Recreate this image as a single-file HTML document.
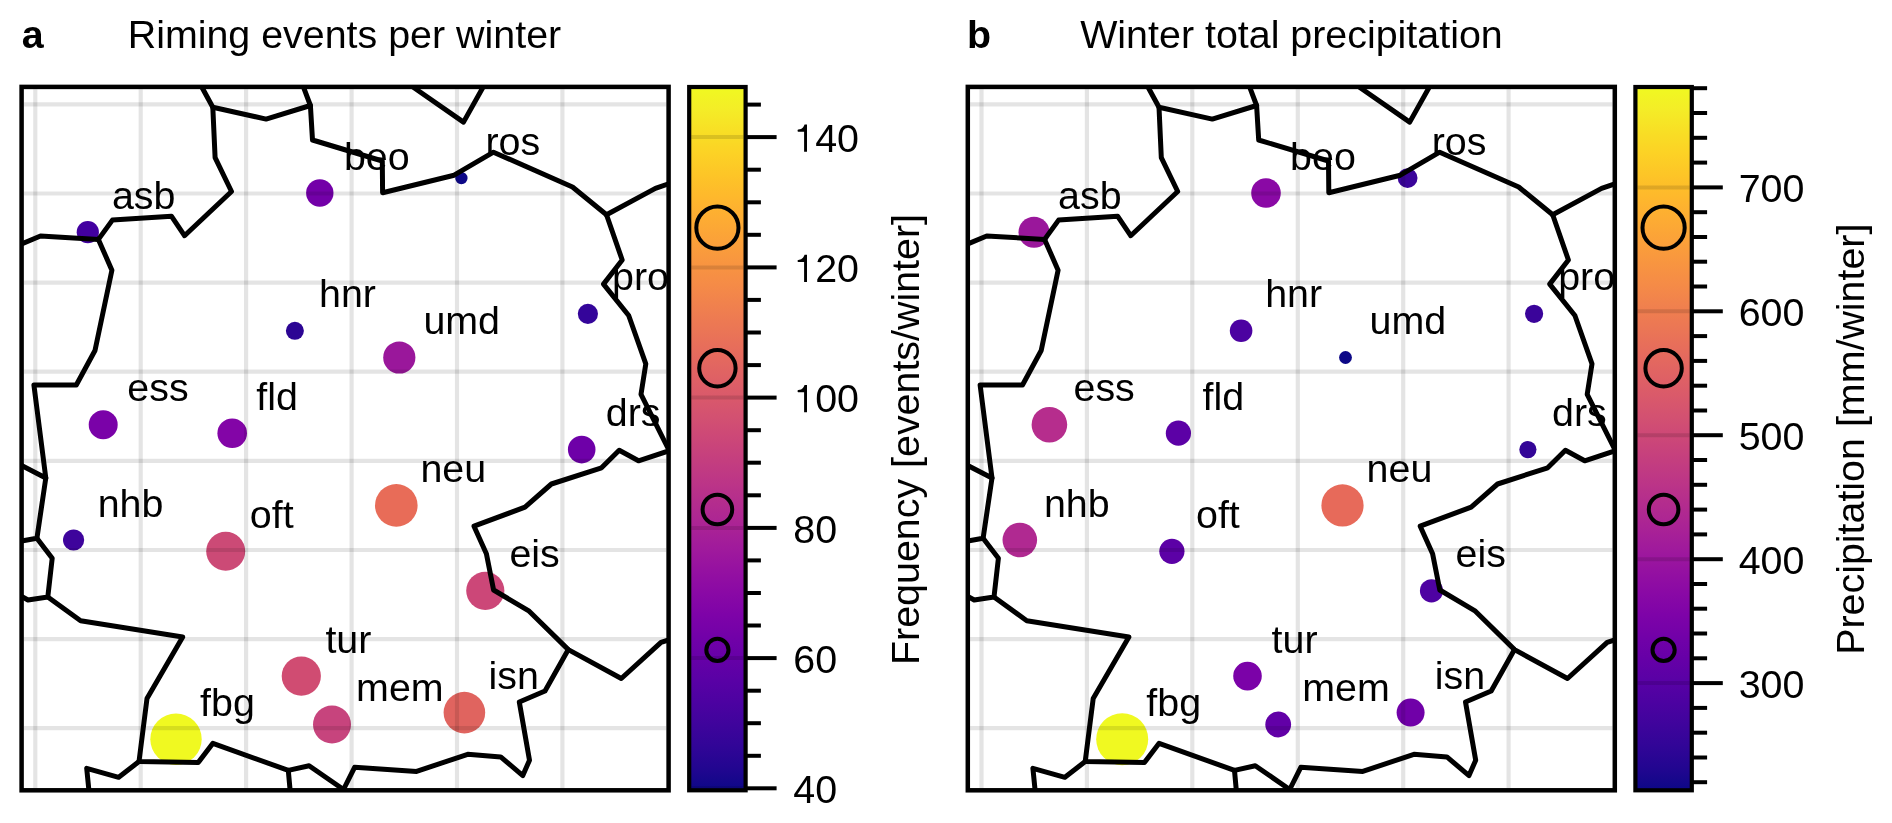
<!DOCTYPE html><html><head><meta charset="utf-8"><style>html,body{margin:0;padding:0;background:#fff;}svg{display:block;will-change:transform;}</style></head><body>
<svg width="1892" height="823" viewBox="0 0 1892 823">
<defs>
<clipPath id="mc0"><rect x="21.6" y="86.9" width="647.0" height="703.4"/></clipPath>
<clipPath id="mc1"><rect x="967.8000000000001" y="86.9" width="647.0" height="703.4"/></clipPath>
<linearGradient id="plasma" x1="0" y1="0" x2="0" y2="1"><stop offset="0.0000" stop-color="#f0f921"/><stop offset="0.0312" stop-color="#f4ed27"/><stop offset="0.0625" stop-color="#f8df25"/><stop offset="0.0938" stop-color="#fcd225"/><stop offset="0.1250" stop-color="#fdc527"/><stop offset="0.1562" stop-color="#feb82c"/><stop offset="0.1875" stop-color="#fdac33"/><stop offset="0.2188" stop-color="#fba139"/><stop offset="0.2500" stop-color="#f89540"/><stop offset="0.2812" stop-color="#f58b47"/><stop offset="0.3125" stop-color="#f0804e"/><stop offset="0.3438" stop-color="#eb7655"/><stop offset="0.3750" stop-color="#e66c5c"/><stop offset="0.4062" stop-color="#e06363"/><stop offset="0.4375" stop-color="#da5a6a"/><stop offset="0.4688" stop-color="#d35171"/><stop offset="0.5000" stop-color="#cc4778"/><stop offset="0.5312" stop-color="#c43e7f"/><stop offset="0.5625" stop-color="#bc3587"/><stop offset="0.5938" stop-color="#b32c8e"/><stop offset="0.6250" stop-color="#aa2395"/><stop offset="0.6562" stop-color="#a01a9c"/><stop offset="0.6875" stop-color="#9511a1"/><stop offset="0.7188" stop-color="#8a09a5"/><stop offset="0.7500" stop-color="#7e03a8"/><stop offset="0.7812" stop-color="#7201a8"/><stop offset="0.8125" stop-color="#6600a7"/><stop offset="0.8438" stop-color="#5901a5"/><stop offset="0.8750" stop-color="#4c02a1"/><stop offset="0.9062" stop-color="#3f049c"/><stop offset="0.9375" stop-color="#310597"/><stop offset="0.9688" stop-color="#220690"/><stop offset="1.0000" stop-color="#0d0887"/></linearGradient>
</defs>
<rect width="1892" height="823" fill="#fff"/>
<text x="21.7" y="47.8" font-family="Liberation Sans, sans-serif" font-size="39.4" font-weight="bold">a</text>
<text x="127.7" y="47.8" font-family="Liberation Sans, sans-serif" font-size="39.4">Riming events per winter</text>
<text x="967" y="47.8" font-family="Liberation Sans, sans-serif" font-size="39.4" font-weight="bold">b</text>
<text x="1080.2" y="47.8" font-family="Liberation Sans, sans-serif" font-size="39.4">Winter total precipitation</text>
<g clip-path="url(#mc0)">
<circle cx="87.8" cy="232.2" r="11.1" fill="#4200a0"/>
<circle cx="319.8" cy="193.0" r="13.7" fill="#7300a8"/>
<circle cx="461.4" cy="178.1" r="6.2" fill="#0d0887"/>
<circle cx="294.9" cy="330.8" r="9.0" fill="#2c0594"/>
<circle cx="399.3" cy="357.5" r="16.1" fill="#9a179b"/>
<circle cx="587.9" cy="313.8" r="10.1" fill="#34059a"/>
<circle cx="103.2" cy="424.7" r="14.5" fill="#7a02a8"/>
<circle cx="232.2" cy="433.2" r="14.8" fill="#8305a7"/>
<circle cx="581.7" cy="449.6" r="13.8" fill="#6e00a8"/>
<circle cx="73.6" cy="540.0" r="10.6" fill="#3e049c"/>
<circle cx="225.7" cy="551.3" r="19.5" fill="#cc4a76"/>
<circle cx="396.3" cy="505.4" r="21.3" fill="#e86c58"/>
<circle cx="485.3" cy="590.8" r="19.1" fill="#cc4778"/>
<circle cx="301.3" cy="676.1" r="19.6" fill="#d04c72"/>
<circle cx="332.0" cy="724.5" r="19.0" fill="#c7447d"/>
<circle cx="464.4" cy="712.6" r="20.8" fill="#e0645f"/>
<circle cx="176.0" cy="739.2" r="25.7" fill="#f0f921"/>
<line x1="35.3" y1="89.15" x2="35.3" y2="788.05" stroke="rgba(0,0,0,0.105)" stroke-width="4.2"/>
<line x1="140.7" y1="89.15" x2="140.7" y2="788.05" stroke="rgba(0,0,0,0.105)" stroke-width="4.2"/>
<line x1="246.1" y1="89.15" x2="246.1" y2="788.05" stroke="rgba(0,0,0,0.105)" stroke-width="4.2"/>
<line x1="351.6" y1="89.15" x2="351.6" y2="788.05" stroke="rgba(0,0,0,0.105)" stroke-width="4.2"/>
<line x1="457.0" y1="89.15" x2="457.0" y2="788.05" stroke="rgba(0,0,0,0.105)" stroke-width="4.2"/>
<line x1="562.4" y1="89.15" x2="562.4" y2="788.05" stroke="rgba(0,0,0,0.105)" stroke-width="4.2"/>
<line x1="23.85" y1="104.4" x2="666.35" y2="104.4" stroke="rgba(0,0,0,0.105)" stroke-width="4.2"/>
<line x1="23.85" y1="193.5" x2="666.35" y2="193.5" stroke="rgba(0,0,0,0.105)" stroke-width="4.2"/>
<line x1="23.85" y1="282.6" x2="666.35" y2="282.6" stroke="rgba(0,0,0,0.105)" stroke-width="4.2"/>
<line x1="23.85" y1="371.7" x2="666.35" y2="371.7" stroke="rgba(0,0,0,0.105)" stroke-width="4.2"/>
<line x1="23.85" y1="460.8" x2="666.35" y2="460.8" stroke="rgba(0,0,0,0.105)" stroke-width="4.2"/>
<line x1="23.85" y1="550.0" x2="666.35" y2="550.0" stroke="rgba(0,0,0,0.105)" stroke-width="4.2"/>
<line x1="23.85" y1="639.1" x2="666.35" y2="639.1" stroke="rgba(0,0,0,0.105)" stroke-width="4.2"/>
<line x1="23.85" y1="728.2" x2="666.35" y2="728.2" stroke="rgba(0,0,0,0.105)" stroke-width="4.2"/>
<polyline points="201.9,87.2 212.8,107.2 266.1,119.1 310.4,105.5 303.5,87.2" fill="none" stroke="#000" stroke-width="5.0" stroke-linejoin="round" stroke-linecap="round"/>
<polyline points="212.8,107.2 215.1,157.6 231.5,191.5 184.5,235.7 171.4,216.2 112.4,220.1 98.4,239.4 40.5,236.0 21.6,244.0" fill="none" stroke="#000" stroke-width="5.0" stroke-linejoin="round" stroke-linecap="round"/>
<polyline points="98.4,239.4 111.9,270.2 95.0,350.5 76.3,385.0 33.9,385.0 45.8,478.0 21.6,465.5" fill="none" stroke="#000" stroke-width="5.0" stroke-linejoin="round" stroke-linecap="round"/>
<polyline points="45.8,478.0 36.9,538.3 21.6,541.0" fill="none" stroke="#000" stroke-width="5.0" stroke-linejoin="round" stroke-linecap="round"/>
<polyline points="36.9,538.3 52.2,558.2 47.8,597.0 28.0,600.0 21.6,596.4" fill="none" stroke="#000" stroke-width="5.0" stroke-linejoin="round" stroke-linecap="round"/>
<polyline points="47.8,597.0 80.6,620.7 182.7,637.0 147.0,698.5 139.0,761.5 198.2,762.6 212.9,743.3 288.3,770.4 309.1,765.7 343.5,789.5 354.6,767.3 416.6,771.4 467.7,754.3 500.7,756.9 522.8,775.6 529.5,760.2 519.3,702.0 545.0,691.0 568.3,649.6" fill="none" stroke="#000" stroke-width="5.0" stroke-linejoin="round" stroke-linecap="round"/>
<polyline points="288.3,770.4 290.1,790.3" fill="none" stroke="#000" stroke-width="5.0" stroke-linejoin="round" stroke-linecap="round"/>
<polyline points="139.0,761.5 118.7,777.3 86.7,768.3 88.9,790.3" fill="none" stroke="#000" stroke-width="5.0" stroke-linejoin="round" stroke-linecap="round"/>
<polyline points="310.4,105.5 312.5,140.0 382.3,161.0 382.6,192.7 454.1,175.2 493.5,152.2 572.5,187.0 606.5,214.7" fill="none" stroke="#000" stroke-width="5.0" stroke-linejoin="round" stroke-linecap="round"/>
<polyline points="606.5,214.7 655.4,188.4 668.6,183.8" fill="none" stroke="#000" stroke-width="5.0" stroke-linejoin="round" stroke-linecap="round"/>
<polyline points="606.5,214.7 622.2,260.0 603.5,284.1 628.7,315.5 645.8,363.8 641.0,394.3 668.6,449.5" fill="none" stroke="#000" stroke-width="5.0" stroke-linejoin="round" stroke-linecap="round"/>
<polyline points="668.6,451.0 638.5,460.8 619.2,450.3 601.5,467.8 551.4,484.0 525.0,507.1 474.0,526.2 486.4,553.8 493.6,590.0 529.2,611.2 568.3,649.6 621.3,678.5 661.0,642.3 668.6,640.0" fill="none" stroke="#000" stroke-width="5.0" stroke-linejoin="round" stroke-linecap="round"/>
<polyline points="413.3,87.3 463.5,122.1 483.0,87.3" fill="none" stroke="#000" stroke-width="5.0" stroke-linejoin="round" stroke-linecap="round"/>
</g>
<text x="111.9" y="208.7" font-family="Liberation Sans, sans-serif" font-size="39.4">asb</text>
<text x="343.9" y="169.5" font-family="Liberation Sans, sans-serif" font-size="39.4">beo</text>
<text x="485.5" y="154.6" font-family="Liberation Sans, sans-serif" font-size="39.4">ros</text>
<text x="319.0" y="307.3" font-family="Liberation Sans, sans-serif" font-size="39.4">hnr</text>
<text x="423.4" y="334.0" font-family="Liberation Sans, sans-serif" font-size="39.4">umd</text>
<text x="612.0" y="290.3" font-family="Liberation Sans, sans-serif" font-size="39.4">pro</text>
<text x="127.3" y="401.2" font-family="Liberation Sans, sans-serif" font-size="39.4">ess</text>
<text x="256.3" y="409.7" font-family="Liberation Sans, sans-serif" font-size="39.4">fld</text>
<text x="605.8" y="426.1" font-family="Liberation Sans, sans-serif" font-size="39.4">drs</text>
<text x="97.7" y="516.5" font-family="Liberation Sans, sans-serif" font-size="39.4">nhb</text>
<text x="249.8" y="527.8" font-family="Liberation Sans, sans-serif" font-size="39.4">oft</text>
<text x="420.4" y="481.9" font-family="Liberation Sans, sans-serif" font-size="39.4">neu</text>
<text x="509.4" y="567.3" font-family="Liberation Sans, sans-serif" font-size="39.4">eis</text>
<text x="325.4" y="652.6" font-family="Liberation Sans, sans-serif" font-size="39.4">tur</text>
<text x="356.1" y="701.0" font-family="Liberation Sans, sans-serif" font-size="39.4">mem</text>
<text x="488.5" y="689.1" font-family="Liberation Sans, sans-serif" font-size="39.4">isn</text>
<text x="200.1" y="715.7" font-family="Liberation Sans, sans-serif" font-size="39.4">fbg</text>
<rect x="21.6" y="86.9" width="647.0" height="703.4" fill="none" stroke="#000" stroke-width="4.5"/>
<rect x="689.2" y="87.0" width="56.39999999999998" height="703.3" fill="url(#plasma)"/>
<line x1="691.3000000000001" y1="788.3" x2="743.5" y2="788.3" stroke="rgba(0,0,0,0.12)" stroke-width="4"/>
<line x1="691.3000000000001" y1="658.1" x2="743.5" y2="658.1" stroke="rgba(0,0,0,0.12)" stroke-width="4"/>
<line x1="691.3000000000001" y1="527.9" x2="743.5" y2="527.9" stroke="rgba(0,0,0,0.12)" stroke-width="4"/>
<line x1="691.3000000000001" y1="397.6" x2="743.5" y2="397.6" stroke="rgba(0,0,0,0.12)" stroke-width="4"/>
<line x1="691.3000000000001" y1="267.4" x2="743.5" y2="267.4" stroke="rgba(0,0,0,0.12)" stroke-width="4"/>
<line x1="691.3000000000001" y1="137.1" x2="743.5" y2="137.1" stroke="rgba(0,0,0,0.12)" stroke-width="4"/>
<circle cx="717.4" cy="649.9" r="11.1" fill="none" stroke="#000" stroke-width="4"/>
<circle cx="717.4" cy="509.5" r="14.8" fill="none" stroke="#000" stroke-width="4"/>
<circle cx="717.4" cy="368.3" r="18.2" fill="none" stroke="#000" stroke-width="4"/>
<circle cx="717.4" cy="227.7" r="21.1" fill="none" stroke="#000" stroke-width="4"/>
<rect x="689.2" y="87.0" width="56.39999999999998" height="703.3" fill="none" stroke="#000" stroke-width="4.2"/>
<line x1="745.6" y1="788.3" x2="776.6" y2="788.3" stroke="#000" stroke-width="4"/>
<text x="793.3" y="802.9" font-family="Liberation Sans, sans-serif" font-size="39.4">40</text>
<line x1="745.6" y1="658.1" x2="776.6" y2="658.1" stroke="#000" stroke-width="4"/>
<text x="793.3" y="672.7" font-family="Liberation Sans, sans-serif" font-size="39.4">60</text>
<line x1="745.6" y1="527.9" x2="776.6" y2="527.9" stroke="#000" stroke-width="4"/>
<text x="793.3" y="542.5" font-family="Liberation Sans, sans-serif" font-size="39.4">80</text>
<line x1="745.6" y1="397.6" x2="776.6" y2="397.6" stroke="#000" stroke-width="4"/>
<path transform="translate(793.3,412.2)" d="M13.7,0 L10.8,0 L10.8,-19.9 L4.9,-19.9 Q4.3,-19.9 4.3,-20.7 L4.3,-21.4 Q4.3,-22.1 5.0,-22.1 Q8.2,-22.2 9.7,-24.2 Q10.7,-25.7 11.3,-27.3 L13.7,-27.3 Z" fill="#000"/>
<text x="815.2" y="412.2" font-family="Liberation Sans, sans-serif" font-size="39.4">00</text>
<line x1="745.6" y1="267.4" x2="776.6" y2="267.4" stroke="#000" stroke-width="4"/>
<path transform="translate(793.3,282.0)" d="M13.7,0 L10.8,0 L10.8,-19.9 L4.9,-19.9 Q4.3,-19.9 4.3,-20.7 L4.3,-21.4 Q4.3,-22.1 5.0,-22.1 Q8.2,-22.2 9.7,-24.2 Q10.7,-25.7 11.3,-27.3 L13.7,-27.3 Z" fill="#000"/>
<text x="815.2" y="282.0" font-family="Liberation Sans, sans-serif" font-size="39.4">20</text>
<line x1="745.6" y1="137.1" x2="776.6" y2="137.1" stroke="#000" stroke-width="4"/>
<path transform="translate(793.3,151.7)" d="M13.7,0 L10.8,0 L10.8,-19.9 L4.9,-19.9 Q4.3,-19.9 4.3,-20.7 L4.3,-21.4 Q4.3,-22.1 5.0,-22.1 Q8.2,-22.2 9.7,-24.2 Q10.7,-25.7 11.3,-27.3 L13.7,-27.3 Z" fill="#000"/>
<text x="815.2" y="151.7" font-family="Liberation Sans, sans-serif" font-size="39.4">40</text>
<line x1="745.6" y1="755.8" x2="760.9" y2="755.8" stroke="#000" stroke-width="4"/>
<line x1="745.6" y1="723.2" x2="760.9" y2="723.2" stroke="#000" stroke-width="4"/>
<line x1="745.6" y1="690.7" x2="760.9" y2="690.7" stroke="#000" stroke-width="4"/>
<line x1="745.6" y1="625.5" x2="760.9" y2="625.5" stroke="#000" stroke-width="4"/>
<line x1="745.6" y1="593.0" x2="760.9" y2="593.0" stroke="#000" stroke-width="4"/>
<line x1="745.6" y1="560.4" x2="760.9" y2="560.4" stroke="#000" stroke-width="4"/>
<line x1="745.6" y1="495.3" x2="760.9" y2="495.3" stroke="#000" stroke-width="4"/>
<line x1="745.6" y1="462.7" x2="760.9" y2="462.7" stroke="#000" stroke-width="4"/>
<line x1="745.6" y1="430.2" x2="760.9" y2="430.2" stroke="#000" stroke-width="4"/>
<line x1="745.6" y1="365.1" x2="760.9" y2="365.1" stroke="#000" stroke-width="4"/>
<line x1="745.6" y1="332.5" x2="760.9" y2="332.5" stroke="#000" stroke-width="4"/>
<line x1="745.6" y1="299.9" x2="760.9" y2="299.9" stroke="#000" stroke-width="4"/>
<line x1="745.6" y1="234.8" x2="760.9" y2="234.8" stroke="#000" stroke-width="4"/>
<line x1="745.6" y1="202.3" x2="760.9" y2="202.3" stroke="#000" stroke-width="4"/>
<line x1="745.6" y1="169.7" x2="760.9" y2="169.7" stroke="#000" stroke-width="4"/>
<line x1="745.6" y1="104.6" x2="760.9" y2="104.6" stroke="#000" stroke-width="4"/>
<text transform="translate(918.5,439.5) rotate(-90)" text-anchor="middle" font-family="Liberation Sans, sans-serif" font-size="39.4">Frequency [events/winter]</text>
<g clip-path="url(#mc1)">
<circle cx="1034.0" cy="232.2" r="15.5" fill="#9a179b"/>
<circle cx="1266.0" cy="193.0" r="14.8" fill="#8a09a5"/>
<circle cx="1407.6" cy="178.1" r="9.9" fill="#3a049a"/>
<circle cx="1241.1" cy="330.8" r="11.3" fill="#4c02a1"/>
<circle cx="1345.5" cy="357.5" r="6.4" fill="#0d0887"/>
<circle cx="1534.1" cy="313.8" r="9.1" fill="#3a049a"/>
<circle cx="1049.4" cy="424.7" r="17.8" fill="#b62d8d"/>
<circle cx="1178.4" cy="433.2" r="12.6" fill="#5c01a6"/>
<circle cx="1527.9" cy="449.6" r="8.6" fill="#330597"/>
<circle cx="1019.8" cy="540.0" r="17.3" fill="#b02991"/>
<circle cx="1171.9" cy="551.3" r="12.6" fill="#5c01a6"/>
<circle cx="1342.5" cy="505.4" r="21.1" fill="#e76a5a"/>
<circle cx="1431.5" cy="590.8" r="11.6" fill="#4e02a2"/>
<circle cx="1247.5" cy="676.1" r="14.3" fill="#7b02a8"/>
<circle cx="1278.2" cy="724.5" r="12.9" fill="#6200a7"/>
<circle cx="1410.6" cy="712.6" r="14.0" fill="#7000a8"/>
<circle cx="1122.2" cy="739.2" r="26.0" fill="#f0f921"/>
<line x1="981.5" y1="89.15" x2="981.5" y2="788.05" stroke="rgba(0,0,0,0.105)" stroke-width="4.2"/>
<line x1="1086.9" y1="89.15" x2="1086.9" y2="788.05" stroke="rgba(0,0,0,0.105)" stroke-width="4.2"/>
<line x1="1192.3" y1="89.15" x2="1192.3" y2="788.05" stroke="rgba(0,0,0,0.105)" stroke-width="4.2"/>
<line x1="1297.8" y1="89.15" x2="1297.8" y2="788.05" stroke="rgba(0,0,0,0.105)" stroke-width="4.2"/>
<line x1="1403.2" y1="89.15" x2="1403.2" y2="788.05" stroke="rgba(0,0,0,0.105)" stroke-width="4.2"/>
<line x1="1508.6" y1="89.15" x2="1508.6" y2="788.05" stroke="rgba(0,0,0,0.105)" stroke-width="4.2"/>
<line x1="970.0500000000001" y1="104.4" x2="1612.5500000000002" y2="104.4" stroke="rgba(0,0,0,0.105)" stroke-width="4.2"/>
<line x1="970.0500000000001" y1="193.5" x2="1612.5500000000002" y2="193.5" stroke="rgba(0,0,0,0.105)" stroke-width="4.2"/>
<line x1="970.0500000000001" y1="282.6" x2="1612.5500000000002" y2="282.6" stroke="rgba(0,0,0,0.105)" stroke-width="4.2"/>
<line x1="970.0500000000001" y1="371.7" x2="1612.5500000000002" y2="371.7" stroke="rgba(0,0,0,0.105)" stroke-width="4.2"/>
<line x1="970.0500000000001" y1="460.8" x2="1612.5500000000002" y2="460.8" stroke="rgba(0,0,0,0.105)" stroke-width="4.2"/>
<line x1="970.0500000000001" y1="550.0" x2="1612.5500000000002" y2="550.0" stroke="rgba(0,0,0,0.105)" stroke-width="4.2"/>
<line x1="970.0500000000001" y1="639.1" x2="1612.5500000000002" y2="639.1" stroke="rgba(0,0,0,0.105)" stroke-width="4.2"/>
<line x1="970.0500000000001" y1="728.2" x2="1612.5500000000002" y2="728.2" stroke="rgba(0,0,0,0.105)" stroke-width="4.2"/>
<polyline points="1148.1,87.2 1159.0,107.2 1212.3,119.1 1256.6,105.5 1249.7,87.2" fill="none" stroke="#000" stroke-width="5.0" stroke-linejoin="round" stroke-linecap="round"/>
<polyline points="1159.0,107.2 1161.3,157.6 1177.7,191.5 1130.7,235.7 1117.6,216.2 1058.6,220.1 1044.6,239.4 986.7,236.0 967.8,244.0" fill="none" stroke="#000" stroke-width="5.0" stroke-linejoin="round" stroke-linecap="round"/>
<polyline points="1044.6,239.4 1058.1,270.2 1041.2,350.5 1022.5,385.0 980.1,385.0 992.0,478.0 967.8,465.5" fill="none" stroke="#000" stroke-width="5.0" stroke-linejoin="round" stroke-linecap="round"/>
<polyline points="992.0,478.0 983.1,538.3 967.8,541.0" fill="none" stroke="#000" stroke-width="5.0" stroke-linejoin="round" stroke-linecap="round"/>
<polyline points="983.1,538.3 998.4,558.2 994.0,597.0 974.2,600.0 967.8,596.4" fill="none" stroke="#000" stroke-width="5.0" stroke-linejoin="round" stroke-linecap="round"/>
<polyline points="994.0,597.0 1026.8,620.7 1128.9,637.0 1093.2,698.5 1085.2,761.5 1144.4,762.6 1159.1,743.3 1234.5,770.4 1255.3,765.7 1289.7,789.5 1300.8,767.3 1362.8,771.4 1413.9,754.3 1446.9,756.9 1469.0,775.6 1475.7,760.2 1465.5,702.0 1491.2,691.0 1514.5,649.6" fill="none" stroke="#000" stroke-width="5.0" stroke-linejoin="round" stroke-linecap="round"/>
<polyline points="1234.5,770.4 1236.3,790.3" fill="none" stroke="#000" stroke-width="5.0" stroke-linejoin="round" stroke-linecap="round"/>
<polyline points="1085.2,761.5 1064.9,777.3 1032.9,768.3 1035.1,790.3" fill="none" stroke="#000" stroke-width="5.0" stroke-linejoin="round" stroke-linecap="round"/>
<polyline points="1256.6,105.5 1258.7,140.0 1328.5,161.0 1328.8,192.7 1400.3,175.2 1439.7,152.2 1518.7,187.0 1552.7,214.7" fill="none" stroke="#000" stroke-width="5.0" stroke-linejoin="round" stroke-linecap="round"/>
<polyline points="1552.7,214.7 1601.6,188.4 1614.8,183.8" fill="none" stroke="#000" stroke-width="5.0" stroke-linejoin="round" stroke-linecap="round"/>
<polyline points="1552.7,214.7 1568.4,260.0 1549.7,284.1 1574.9,315.5 1592.0,363.8 1587.2,394.3 1614.8,449.5" fill="none" stroke="#000" stroke-width="5.0" stroke-linejoin="round" stroke-linecap="round"/>
<polyline points="1614.8,451.0 1584.7,460.8 1565.4,450.3 1547.7,467.8 1497.6,484.0 1471.2,507.1 1420.2,526.2 1432.6,553.8 1439.8,590.0 1475.4,611.2 1514.5,649.6 1567.5,678.5 1607.2,642.3 1614.8,640.0" fill="none" stroke="#000" stroke-width="5.0" stroke-linejoin="round" stroke-linecap="round"/>
<polyline points="1359.5,87.3 1409.7,122.1 1429.2,87.3" fill="none" stroke="#000" stroke-width="5.0" stroke-linejoin="round" stroke-linecap="round"/>
</g>
<text x="1058.1" y="208.7" font-family="Liberation Sans, sans-serif" font-size="39.4">asb</text>
<text x="1290.1" y="169.5" font-family="Liberation Sans, sans-serif" font-size="39.4">beo</text>
<text x="1431.7" y="154.6" font-family="Liberation Sans, sans-serif" font-size="39.4">ros</text>
<text x="1265.2" y="307.3" font-family="Liberation Sans, sans-serif" font-size="39.4">hnr</text>
<text x="1369.6" y="334.0" font-family="Liberation Sans, sans-serif" font-size="39.4">umd</text>
<text x="1558.2" y="290.3" font-family="Liberation Sans, sans-serif" font-size="39.4">pro</text>
<text x="1073.5" y="401.2" font-family="Liberation Sans, sans-serif" font-size="39.4">ess</text>
<text x="1202.5" y="409.7" font-family="Liberation Sans, sans-serif" font-size="39.4">fld</text>
<text x="1552.0" y="426.1" font-family="Liberation Sans, sans-serif" font-size="39.4">drs</text>
<text x="1043.9" y="516.5" font-family="Liberation Sans, sans-serif" font-size="39.4">nhb</text>
<text x="1196.0" y="527.8" font-family="Liberation Sans, sans-serif" font-size="39.4">oft</text>
<text x="1366.6" y="481.9" font-family="Liberation Sans, sans-serif" font-size="39.4">neu</text>
<text x="1455.6" y="567.3" font-family="Liberation Sans, sans-serif" font-size="39.4">eis</text>
<text x="1271.6" y="652.6" font-family="Liberation Sans, sans-serif" font-size="39.4">tur</text>
<text x="1302.3" y="701.0" font-family="Liberation Sans, sans-serif" font-size="39.4">mem</text>
<text x="1434.7" y="689.1" font-family="Liberation Sans, sans-serif" font-size="39.4">isn</text>
<text x="1146.3" y="715.7" font-family="Liberation Sans, sans-serif" font-size="39.4">fbg</text>
<rect x="967.8000000000001" y="86.9" width="647.0" height="703.4" fill="none" stroke="#000" stroke-width="4.5"/>
<rect x="1635.4" y="87.0" width="56.40000000000009" height="703.3" fill="url(#plasma)"/>
<line x1="1637.5" y1="683.1" x2="1689.7000000000003" y2="683.1" stroke="rgba(0,0,0,0.12)" stroke-width="4"/>
<line x1="1637.5" y1="559.2" x2="1689.7000000000003" y2="559.2" stroke="rgba(0,0,0,0.12)" stroke-width="4"/>
<line x1="1637.5" y1="435.2" x2="1689.7000000000003" y2="435.2" stroke="rgba(0,0,0,0.12)" stroke-width="4"/>
<line x1="1637.5" y1="311.3" x2="1689.7000000000003" y2="311.3" stroke="rgba(0,0,0,0.12)" stroke-width="4"/>
<line x1="1637.5" y1="187.4" x2="1689.7000000000003" y2="187.4" stroke="rgba(0,0,0,0.12)" stroke-width="4"/>
<circle cx="1663.6" cy="649.9" r="11.1" fill="none" stroke="#000" stroke-width="4"/>
<circle cx="1663.6" cy="509.5" r="14.8" fill="none" stroke="#000" stroke-width="4"/>
<circle cx="1663.6" cy="368.3" r="18.2" fill="none" stroke="#000" stroke-width="4"/>
<circle cx="1663.6" cy="227.7" r="21.1" fill="none" stroke="#000" stroke-width="4"/>
<rect x="1635.4" y="87.0" width="56.40000000000009" height="703.3" fill="none" stroke="#000" stroke-width="4.2"/>
<line x1="1691.8000000000002" y1="683.1" x2="1722.8000000000002" y2="683.1" stroke="#000" stroke-width="4"/>
<text x="1738.7" y="697.7" font-family="Liberation Sans, sans-serif" font-size="39.4">300</text>
<line x1="1691.8000000000002" y1="559.2" x2="1722.8000000000002" y2="559.2" stroke="#000" stroke-width="4"/>
<text x="1738.7" y="573.8" font-family="Liberation Sans, sans-serif" font-size="39.4">400</text>
<line x1="1691.8000000000002" y1="435.2" x2="1722.8000000000002" y2="435.2" stroke="#000" stroke-width="4"/>
<text x="1738.7" y="449.8" font-family="Liberation Sans, sans-serif" font-size="39.4">500</text>
<line x1="1691.8000000000002" y1="311.3" x2="1722.8000000000002" y2="311.3" stroke="#000" stroke-width="4"/>
<text x="1738.7" y="325.9" font-family="Liberation Sans, sans-serif" font-size="39.4">600</text>
<line x1="1691.8000000000002" y1="187.4" x2="1722.8000000000002" y2="187.4" stroke="#000" stroke-width="4"/>
<text x="1738.7" y="202.0" font-family="Liberation Sans, sans-serif" font-size="39.4">700</text>
<line x1="1691.8000000000002" y1="782.2" x2="1707.1000000000001" y2="782.2" stroke="#000" stroke-width="4"/>
<line x1="1691.8000000000002" y1="757.5" x2="1707.1000000000001" y2="757.5" stroke="#000" stroke-width="4"/>
<line x1="1691.8000000000002" y1="732.7" x2="1707.1000000000001" y2="732.7" stroke="#000" stroke-width="4"/>
<line x1="1691.8000000000002" y1="707.9" x2="1707.1000000000001" y2="707.9" stroke="#000" stroke-width="4"/>
<line x1="1691.8000000000002" y1="658.3" x2="1707.1000000000001" y2="658.3" stroke="#000" stroke-width="4"/>
<line x1="1691.8000000000002" y1="633.5" x2="1707.1000000000001" y2="633.5" stroke="#000" stroke-width="4"/>
<line x1="1691.8000000000002" y1="608.7" x2="1707.1000000000001" y2="608.7" stroke="#000" stroke-width="4"/>
<line x1="1691.8000000000002" y1="584.0" x2="1707.1000000000001" y2="584.0" stroke="#000" stroke-width="4"/>
<line x1="1691.8000000000002" y1="534.4" x2="1707.1000000000001" y2="534.4" stroke="#000" stroke-width="4"/>
<line x1="1691.8000000000002" y1="509.6" x2="1707.1000000000001" y2="509.6" stroke="#000" stroke-width="4"/>
<line x1="1691.8000000000002" y1="484.8" x2="1707.1000000000001" y2="484.8" stroke="#000" stroke-width="4"/>
<line x1="1691.8000000000002" y1="460.0" x2="1707.1000000000001" y2="460.0" stroke="#000" stroke-width="4"/>
<line x1="1691.8000000000002" y1="410.5" x2="1707.1000000000001" y2="410.5" stroke="#000" stroke-width="4"/>
<line x1="1691.8000000000002" y1="385.7" x2="1707.1000000000001" y2="385.7" stroke="#000" stroke-width="4"/>
<line x1="1691.8000000000002" y1="360.9" x2="1707.1000000000001" y2="360.9" stroke="#000" stroke-width="4"/>
<line x1="1691.8000000000002" y1="336.1" x2="1707.1000000000001" y2="336.1" stroke="#000" stroke-width="4"/>
<line x1="1691.8000000000002" y1="286.5" x2="1707.1000000000001" y2="286.5" stroke="#000" stroke-width="4"/>
<line x1="1691.8000000000002" y1="261.7" x2="1707.1000000000001" y2="261.7" stroke="#000" stroke-width="4"/>
<line x1="1691.8000000000002" y1="237.0" x2="1707.1000000000001" y2="237.0" stroke="#000" stroke-width="4"/>
<line x1="1691.8000000000002" y1="212.2" x2="1707.1000000000001" y2="212.2" stroke="#000" stroke-width="4"/>
<line x1="1691.8000000000002" y1="162.6" x2="1707.1000000000001" y2="162.6" stroke="#000" stroke-width="4"/>
<line x1="1691.8000000000002" y1="137.8" x2="1707.1000000000001" y2="137.8" stroke="#000" stroke-width="4"/>
<line x1="1691.8000000000002" y1="113.0" x2="1707.1000000000001" y2="113.0" stroke="#000" stroke-width="4"/>
<line x1="1691.8000000000002" y1="88.2" x2="1707.1000000000001" y2="88.2" stroke="#000" stroke-width="4"/>
<text transform="translate(1864.1,439.2) rotate(-90)" text-anchor="middle" font-family="Liberation Sans, sans-serif" font-size="39.4">Precipitation [mm/winter]</text>
</svg></body></html>
